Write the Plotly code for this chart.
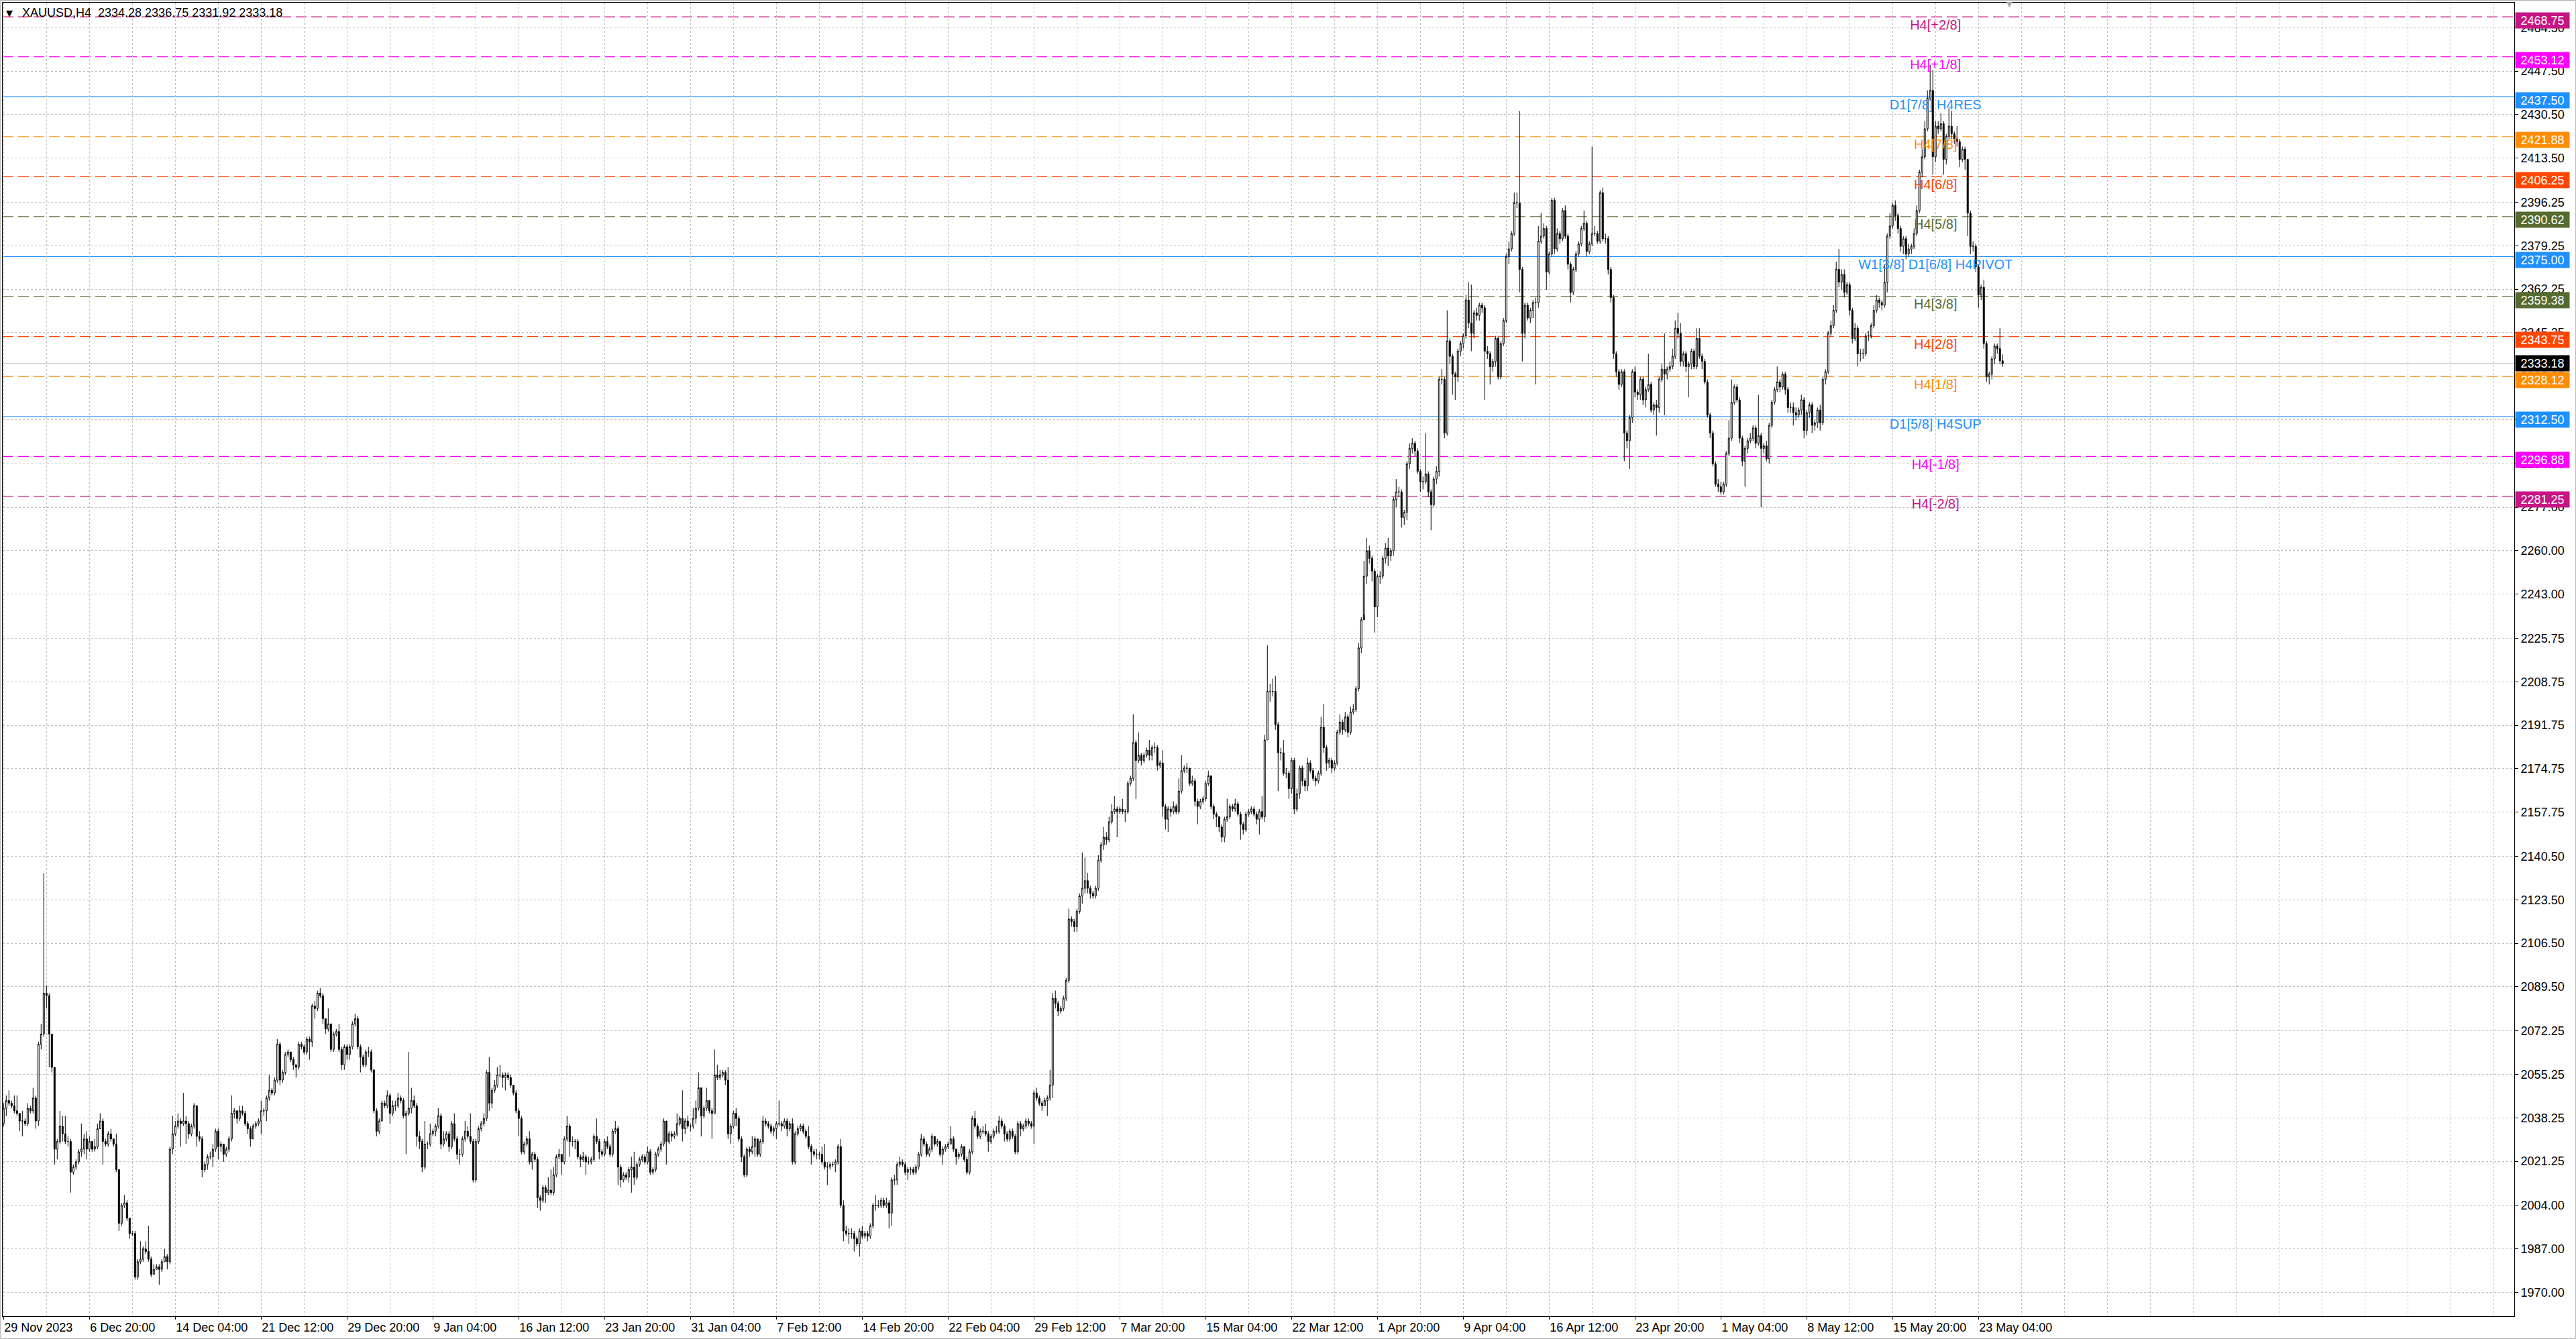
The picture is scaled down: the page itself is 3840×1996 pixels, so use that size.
import plotly.graph_objects as go

FONT = "Liberation Sans, Arial, sans-serif"

# XAUUSD H4 bars (bar 0 = 29 Nov 2023)
first_open = 2036
close = [
    2042, 2045, 2044, 2043, 2041, 2040, 2037, 2037, 2036, 2042,
    2041, 2046, 2037, 2067, 2071, 2087, 2086, 2071, 2058, 2026,
    2029, 2035, 2032, 2029, 2029, 2017, 2019, 2021, 2025, 2026,
    2030, 2026, 2029, 2026, 2027, 2034, 2037, 2029, 2028, 2032,
    2030, 2028, 2018, 1997, 2004, 2005, 1999, 1993, 1993, 1976,
    1982, 1983, 1987, 1986, 1983, 1977, 1979, 1980, 1979, 1982,
    1984, 1982, 2026, 2032, 2035, 2037, 2036, 2037, 2036, 2032,
    2035, 2043, 2031, 2030, 2018, 2020, 2023, 2023, 2026, 2033,
    2027, 2028, 2024, 2026, 2030, 2040, 2041, 2038, 2041, 2040,
    2036, 2034, 2030, 2035, 2036, 2037, 2041, 2041, 2046, 2049,
    2048, 2053, 2067, 2053, 2056, 2063, 2064, 2061, 2059, 2058,
    2067, 2066, 2064, 2069, 2068, 2082, 2081, 2087, 2086, 2077,
    2073, 2075, 2065, 2071, 2072, 2065, 2059, 2066, 2063, 2066,
    2075, 2077, 2066, 2062, 2059, 2064, 2064, 2057, 2041, 2033,
    2037, 2044, 2043, 2047, 2040, 2043, 2043, 2046, 2045, 2039,
    2040, 2042, 2045, 2043, 2031, 2029, 2019, 2028, 2028, 2032,
    2033, 2035, 2039, 2028, 2030, 2032, 2027, 2036, 2030, 2024,
    2024, 2030, 2033, 2031, 2029, 2014, 2029, 2034, 2036, 2038,
    2056, 2044, 2049, 2051, 2055, 2055, 2054, 2055, 2054, 2051,
    2048, 2041, 2038, 2025, 2028, 2030, 2021, 2024, 2022, 2007,
    2006, 2011, 2009, 2010, 2009, 2016, 2023, 2024, 2021, 2030,
    2035, 2029, 2029, 2029, 2023, 2022, 2023, 2021, 2021, 2022,
    2031, 2029, 2025, 2024, 2029, 2027, 2024, 2033, 2034, 2019,
    2014, 2016, 2015, 2018, 2019, 2015, 2020, 2022, 2023, 2021,
    2025, 2017, 2018, 2024, 2026, 2028, 2037, 2029, 2032, 2031,
    2032, 2036, 2038, 2034, 2037, 2035, 2035, 2038, 2042, 2050,
    2039, 2042, 2045, 2041, 2040, 2055, 2054, 2055, 2056, 2053,
    2032, 2035, 2040, 2038, 2030, 2023, 2016, 2026, 2025, 2027,
    2030, 2024, 2029, 2037, 2036, 2035, 2033, 2034, 2036, 2036,
    2035, 2037, 2034, 2036, 2021, 2032, 2034, 2035, 2033, 2031,
    2027, 2025, 2024, 2024, 2024, 2021, 2019, 2019, 2020, 2020,
    2021, 2027, 2004, 1994, 1993, 1993, 1993, 1991, 1989, 1994,
    1992, 1993, 1992, 1996, 2004, 2004, 2004, 2006, 2004, 2005,
    2001, 2014, 2014, 2020, 2021, 2020, 2017, 2018, 2018, 2017,
    2019, 2024, 2030, 2028, 2024, 2026, 2031, 2028, 2029, 2024,
    2026, 2027, 2028, 2030, 2026, 2023, 2024, 2027, 2022, 2017,
    2025, 2038, 2035, 2031, 2033, 2033, 2032, 2029, 2031, 2033,
    2033, 2037, 2035, 2032, 2030, 2033, 2031, 2025, 2036, 2034,
    2035, 2037, 2036, 2035, 2048, 2046, 2044, 2043, 2045, 2046,
    2051, 2085, 2083, 2080, 2081, 2085, 2092, 2116, 2115, 2113,
    2119, 2125, 2128, 2131, 2128, 2126, 2125, 2128, 2139, 2145,
    2148, 2147, 2154, 2158, 2159, 2158, 2159, 2158, 2158, 2169,
    2171, 2185, 2178, 2180, 2178, 2180, 2182, 2180, 2183, 2183,
    2176, 2177, 2160, 2155, 2159, 2158, 2160, 2158, 2166, 2174,
    2175, 2175, 2169, 2170, 2162, 2160, 2162, 2163, 2169, 2172,
    2160, 2157, 2156, 2152, 2148, 2155, 2156, 2160, 2159, 2161,
    2157, 2153, 2151, 2157, 2158, 2159, 2157, 2155, 2158, 2156,
    2186, 2205, 2205, 2205, 2192, 2181, 2181, 2173, 2173, 2167,
    2178, 2159, 2165, 2175, 2170, 2168, 2177, 2174, 2171, 2170,
    2173, 2191, 2183, 2177, 2178, 2175, 2177, 2189, 2193, 2190,
    2195, 2189, 2197, 2198, 2206, 2222, 2233, 2250, 2260, 2257,
    2252, 2238, 2250, 2250, 2257, 2261, 2258, 2260, 2280, 2283,
    2283, 2273, 2275, 2294, 2300, 2302, 2299, 2291, 2287, 2287,
    2290, 2283, 2278, 2288, 2291, 2327, 2327, 2306, 2342, 2336,
    2329, 2328, 2338, 2341, 2344, 2358, 2349, 2345, 2353, 2352,
    2356, 2355, 2338, 2337, 2332, 2334, 2343, 2328, 2341, 2350,
    2375, 2378, 2384, 2396, 2396, 2370, 2345, 2356, 2351, 2354,
    2357, 2357, 2381, 2383, 2386, 2369, 2376, 2397, 2378, 2384,
    2382, 2393, 2383, 2372, 2361, 2370, 2376, 2380, 2386, 2388,
    2377, 2380, 2384, 2384, 2381, 2400, 2382, 2382, 2370, 2359,
    2337, 2330, 2325, 2330, 2306, 2303, 2312, 2330, 2322, 2321,
    2327, 2319, 2323, 2325, 2315, 2317, 2316, 2327, 2331, 2329,
    2331, 2332, 2336, 2347, 2345, 2334, 2337, 2332, 2333, 2338,
    2332, 2343, 2336, 2334, 2326, 2313, 2306, 2294, 2286, 2285,
    2283, 2286, 2298, 2304, 2318, 2324, 2319, 2304, 2295, 2300,
    2303, 2304, 2308, 2302, 2305, 2300, 2301, 2296, 2309, 2318,
    2323, 2326, 2324, 2329, 2323, 2316, 2316, 2314, 2313, 2315,
    2319, 2307, 2314, 2317, 2309, 2310, 2315, 2310, 2327, 2330,
    2345, 2348, 2354, 2370, 2365, 2368, 2361, 2364, 2354, 2343,
    2347, 2337, 2337, 2337, 2344, 2344, 2348, 2354, 2358, 2357,
    2356, 2365, 2383, 2387, 2395, 2391, 2386, 2379, 2382, 2376,
    2378, 2379, 2384, 2393, 2408, 2414, 2425, 2437, 2440, 2414,
    2426, 2425, 2427, 2413, 2422, 2426, 2423, 2421, 2420, 2413,
    2417, 2413, 2392, 2379, 2379, 2371, 2360, 2363, 2341, 2328,
    2329, 2335, 2340, 2339, 2334.28, 2333.18,
]
high = [
    2044, 2047, 2049, 2045, 2047, 2047, 2040, 2041, 2038, 2044,
    2043, 2050, 2047, 2068, 2075, 2134, 2090, 2087, 2071, 2058,
    2030, 2041, 2039, 2039, 2031, 2030, 2020, 2022, 2026, 2036,
    2032, 2033, 2031, 2029, 2030, 2036, 2040, 2038, 2030, 2033,
    2034, 2030, 2032, 2018, 2005, 2008, 2006, 1999, 1994, 1994,
    1983, 1990, 1988, 1990, 1996, 1984, 1981, 1981, 1981, 1983,
    1987, 1985, 2027, 2039, 2037, 2040, 2038, 2048, 2039, 2037,
    2036, 2044, 2043, 2033, 2031, 2021, 2024, 2025, 2028, 2034,
    2034, 2029, 2028, 2027, 2031, 2047, 2042, 2041, 2043, 2043,
    2041, 2037, 2035, 2036, 2037, 2038, 2045, 2042, 2047, 2055,
    2050, 2054, 2069, 2068, 2057, 2064, 2065, 2064, 2062, 2059,
    2068, 2068, 2067, 2070, 2070, 2083, 2084, 2088, 2089, 2087,
    2077, 2081, 2075, 2072, 2073, 2075, 2066, 2067, 2067, 2067,
    2076, 2079, 2078, 2067, 2063, 2065, 2066, 2065, 2057, 2042,
    2038, 2045, 2045, 2049, 2048, 2045, 2045, 2048, 2047, 2046,
    2041, 2064, 2050, 2047, 2044, 2033, 2030, 2037, 2029, 2036,
    2034, 2036, 2042, 2040, 2033, 2033, 2033, 2037, 2040, 2031,
    2026, 2031, 2037, 2035, 2040, 2030, 2030, 2035, 2037, 2040,
    2057, 2062, 2050, 2053, 2058, 2059, 2056, 2056, 2056, 2055,
    2051, 2049, 2042, 2039, 2029, 2031, 2033, 2025, 2025, 2023,
    2008, 2012, 2012, 2015, 2018, 2019, 2024, 2026, 2024, 2031,
    2039, 2036, 2031, 2030, 2030, 2024, 2025, 2024, 2023, 2023,
    2032, 2038, 2030, 2026, 2030, 2031, 2028, 2034, 2037, 2035,
    2020, 2017, 2017, 2019, 2023, 2025, 2021, 2023, 2024, 2024,
    2027, 2026, 2019, 2025, 2027, 2029, 2038, 2037, 2033, 2033,
    2033, 2040, 2039, 2049, 2038, 2039, 2036, 2042, 2045, 2056,
    2050, 2043, 2050, 2045, 2042, 2065, 2059, 2057, 2057, 2057,
    2058, 2036, 2041, 2042, 2039, 2031, 2024, 2027, 2027, 2031,
    2031, 2030, 2030, 2039, 2038, 2037, 2036, 2035, 2037, 2045,
    2037, 2038, 2038, 2037, 2038, 2033, 2035, 2036, 2036, 2034,
    2035, 2028, 2026, 2026, 2025, 2027, 2028, 2021, 2021, 2021,
    2022, 2028, 2030, 2006, 1996, 1995, 1995, 1994, 1992, 1995,
    1996, 1994, 1994, 1997, 2005, 2008, 2006, 2007, 2007, 2007,
    2006, 2015, 2016, 2021, 2023, 2022, 2021, 2019, 2019, 2019,
    2020, 2025, 2032, 2031, 2029, 2027, 2032, 2031, 2030, 2029,
    2027, 2028, 2029, 2035, 2031, 2026, 2025, 2028, 2027, 2023,
    2026, 2039, 2041, 2036, 2034, 2035, 2036, 2033, 2032, 2034,
    2035, 2039, 2038, 2036, 2033, 2034, 2034, 2032, 2037, 2037,
    2036, 2038, 2038, 2037, 2049, 2050, 2047, 2045, 2046, 2047,
    2057, 2087, 2088, 2084, 2082, 2086, 2093, 2120, 2117, 2116,
    2120, 2126, 2142, 2140, 2134, 2129, 2127, 2129, 2141, 2146,
    2152, 2150, 2156, 2161, 2164, 2160, 2160, 2163, 2159, 2170,
    2172, 2196, 2186, 2189, 2181, 2181, 2183, 2186, 2184, 2185,
    2184, 2178, 2182, 2161, 2160, 2160, 2162, 2161, 2171, 2180,
    2176, 2177, 2175, 2172, 2171, 2163, 2163, 2164, 2170, 2174,
    2172, 2161, 2158, 2156, 2153, 2156, 2163, 2161, 2161, 2163,
    2162, 2158, 2154, 2158, 2159, 2160, 2160, 2158, 2159, 2164,
    2188, 2223, 2208, 2210, 2211, 2193, 2183, 2186, 2175, 2174,
    2179, 2179, 2167, 2176, 2176, 2171, 2179, 2178, 2175, 2172,
    2174, 2195, 2200, 2184, 2179, 2179, 2178, 2190, 2196, 2194,
    2197, 2196, 2199, 2200, 2207, 2224, 2234, 2256, 2265, 2262,
    2258, 2253, 2251, 2252, 2258, 2263, 2265, 2261, 2281, 2288,
    2285, 2284, 2276, 2295, 2302, 2304, 2303, 2300, 2292, 2289,
    2306, 2291, 2284, 2289, 2293, 2328, 2331, 2328, 2354, 2343,
    2337, 2330, 2339, 2342, 2345, 2360, 2365, 2364, 2354, 2355,
    2357, 2357, 2356, 2340, 2338, 2335, 2344, 2344, 2342, 2351,
    2376, 2381, 2385, 2400, 2400, 2432, 2371, 2357, 2357, 2355,
    2358, 2359, 2387, 2392, 2388, 2387, 2377, 2398, 2398, 2386,
    2385, 2394, 2395, 2384, 2373, 2371, 2377, 2381, 2387, 2393,
    2389, 2381, 2418, 2387, 2385, 2401, 2402, 2384, 2383, 2371,
    2360, 2338, 2331, 2331, 2331, 2307, 2313, 2331, 2332, 2323,
    2328, 2328, 2324, 2337, 2326, 2318, 2319, 2328, 2333, 2345,
    2332, 2334, 2339, 2350, 2353, 2349, 2338, 2338, 2334, 2339,
    2339, 2347, 2347, 2337, 2335, 2327, 2314, 2307, 2295, 2288,
    2287, 2287, 2299, 2311, 2327, 2325, 2325, 2320, 2305, 2301,
    2304, 2306, 2309, 2309, 2321, 2306, 2302, 2303, 2310, 2319,
    2324, 2332, 2327, 2330, 2330, 2324, 2318, 2318, 2316, 2316,
    2321, 2320, 2315, 2318, 2318, 2311, 2316, 2317, 2328, 2331,
    2346, 2350, 2356, 2373, 2378, 2370, 2370, 2365, 2365, 2355,
    2349, 2348, 2339, 2339, 2345, 2346, 2349, 2356, 2360, 2359,
    2358, 2372, 2384, 2392, 2396, 2397, 2392, 2387, 2383, 2383,
    2380, 2380, 2386, 2395, 2409, 2417, 2428, 2440, 2450, 2448,
    2428, 2428, 2431, 2428, 2423, 2433, 2432, 2424, 2426, 2421,
    2418, 2418, 2413, 2393, 2381, 2380, 2372, 2364, 2366, 2342,
    2330, 2336, 2341, 2341, 2347, 2336.75,
]
low = [
    2035, 2039, 2043, 2042, 2040, 2039, 2033, 2031, 2035, 2035,
    2040, 2040, 2034, 2035, 2065, 2070, 2081, 2058, 2056, 2020,
    2022, 2028, 2029, 2028, 2027, 2009, 2016, 2018, 2020, 2023,
    2024, 2022, 2025, 2025, 2025, 2026, 2034, 2020, 2027, 2027,
    2029, 2027, 2017, 1994, 1996, 2003, 1998, 1991, 1992, 1975,
    1975, 1981, 1982, 1985, 1982, 1976, 1977, 1979, 1973, 1978,
    1982, 1979, 1981, 2024, 2031, 2034, 2027, 2035, 2028, 2030,
    2031, 2034, 2027, 2029, 2015, 2017, 2018, 2022, 2019, 2025,
    2022, 2025, 2021, 2023, 2025, 2029, 2038, 2036, 2037, 2039,
    2035, 2032, 2027, 2030, 2034, 2035, 2032, 2039, 2037, 2045,
    2047, 2047, 2052, 2051, 2052, 2055, 2062, 2060, 2057, 2054,
    2057, 2065, 2063, 2063, 2061, 2066, 2077, 2080, 2085, 2075,
    2071, 2072, 2064, 2064, 2070, 2064, 2057, 2057, 2061, 2061,
    2065, 2074, 2065, 2056, 2058, 2058, 2062, 2056, 2040, 2031,
    2032, 2037, 2042, 2042, 2036, 2039, 2041, 2042, 2044, 2038,
    2024, 2039, 2040, 2042, 2027, 2026, 2017, 2018, 2026, 2027,
    2031, 2031, 2034, 2026, 2027, 2029, 2025, 2026, 2029, 2022,
    2020, 2023, 2029, 2030, 2028, 2013, 2013, 2028, 2033, 2035,
    2037, 2041, 2042, 2048, 2050, 2054, 2050, 2049, 2053, 2050,
    2047, 2040, 2031, 2024, 2024, 2027, 2020, 2018, 2021, 2003,
    2002, 2005, 2005, 2008, 2008, 2008, 2015, 2022, 2016, 2020,
    2029, 2023, 2027, 2026, 2022, 2019, 2021, 2016, 2020, 2020,
    2021, 2028, 2022, 2023, 2023, 2026, 2023, 2023, 2032, 2012,
    2011, 2013, 2014, 2013, 2009, 2012, 2014, 2019, 2021, 2020,
    2020, 2016, 2016, 2017, 2023, 2025, 2027, 2020, 2028, 2029,
    2030, 2031, 2035, 2029, 2032, 2034, 2033, 2034, 2036, 2041,
    2031, 2038, 2041, 2040, 2030, 2040, 2053, 2053, 2054, 2051,
    2030, 2028, 2034, 2035, 2029, 2021, 2015, 2015, 2023, 2024,
    2023, 2023, 2023, 2028, 2035, 2034, 2032, 2031, 2030, 2035,
    2033, 2034, 2031, 2033, 2020, 2020, 2031, 2033, 2032, 2030,
    2026, 2020, 2023, 2022, 2022, 2020, 2018, 2012, 2018, 2019,
    2017, 2020, 2003, 1990, 1992, 1989, 1991, 1986, 1988, 1984,
    1991, 1991, 1990, 1991, 1995, 2002, 2003, 2003, 2003, 2003,
    1995, 1996, 2012, 2012, 2019, 2019, 2016, 2014, 2016, 2016,
    2016, 2018, 2023, 2027, 2023, 2023, 2025, 2027, 2027, 2023,
    2020, 2025, 2026, 2028, 2025, 2020, 2022, 2023, 2021, 2016,
    2016, 2024, 2034, 2030, 2030, 2032, 2031, 2025, 2028, 2030,
    2032, 2032, 2034, 2029, 2029, 2029, 2030, 2024, 2024, 2031,
    2033, 2034, 2035, 2034, 2028, 2045, 2043, 2041, 2043, 2039,
    2045, 2046, 2081, 2078, 2079, 2080, 2084, 2091, 2113, 2111,
    2111, 2118, 2122, 2126, 2126, 2124, 2124, 2124, 2127, 2138,
    2143, 2145, 2146, 2153, 2157, 2148, 2157, 2157, 2154, 2157,
    2168, 2170, 2163, 2177, 2176, 2177, 2179, 2178, 2178, 2181,
    2174, 2175, 2156, 2151, 2150, 2156, 2157, 2157, 2157, 2165,
    2173, 2173, 2168, 2168, 2160, 2153, 2159, 2161, 2162, 2168,
    2159, 2155, 2152, 2150, 2146, 2146, 2154, 2155, 2158, 2158,
    2156, 2147, 2149, 2150, 2156, 2157, 2156, 2153, 2149, 2155,
    2154, 2186, 2201, 2203, 2190, 2166, 2178, 2172, 2171, 2163,
    2165, 2157, 2158, 2163, 2168, 2166, 2166, 2173, 2170, 2168,
    2169, 2172, 2181, 2174, 2175, 2173, 2174, 2176, 2188, 2188,
    2189, 2187, 2188, 2196, 2197, 2205, 2220, 2235, 2247, 2255,
    2248, 2228, 2234, 2247, 2249, 2255, 2254, 2256, 2258, 2277,
    2281, 2269, 2270, 2272, 2292, 2298, 2297, 2290, 2283, 2284,
    2286, 2281, 2268, 2277, 2286, 2289, 2325, 2304, 2305, 2333,
    2321, 2319, 2326, 2336, 2339, 2343, 2347, 2338, 2343, 2350,
    2350, 2353, 2319, 2335, 2325, 2330, 2332, 2327, 2327, 2340,
    2349, 2372, 2377, 2383, 2394, 2361, 2334, 2343, 2350, 2349,
    2351, 2325, 2355, 2380, 2382, 2362, 2368, 2375, 2376, 2377,
    2380, 2381, 2382, 2370, 2357, 2360, 2369, 2375, 2379, 2385,
    2375, 2376, 2379, 2383, 2380, 2380, 2381, 2380, 2368, 2357,
    2335, 2328, 2323, 2324, 2295, 2300, 2292, 2310, 2320, 2319,
    2319, 2317, 2316, 2322, 2314, 2313, 2305, 2314, 2326, 2313,
    2327, 2330, 2331, 2335, 2343, 2332, 2332, 2330, 2320, 2331,
    2331, 2331, 2335, 2331, 2325, 2312, 2304, 2293, 2285, 2283,
    2282, 2282, 2285, 2297, 2303, 2317, 2318, 2302, 2293, 2285,
    2298, 2302, 2303, 2300, 2301, 2277, 2298, 2295, 2294, 2308,
    2317, 2322, 2322, 2323, 2321, 2314, 2314, 2309, 2311, 2312,
    2313, 2304, 2305, 2312, 2306, 2307, 2308, 2307, 2309, 2325,
    2329, 2344, 2347, 2353, 2363, 2362, 2359, 2360, 2352, 2341,
    2342, 2332, 2334, 2335, 2336, 2342, 2343, 2347, 2353, 2355,
    2354, 2355, 2361, 2382, 2386, 2389, 2384, 2377, 2376, 2374,
    2375, 2376, 2378, 2383, 2392, 2406, 2413, 2424, 2436, 2407,
    2412, 2423, 2424, 2407, 2411, 2421, 2421, 2419, 2418, 2410,
    2412, 2409, 2383, 2376, 2377, 2369, 2355, 2358, 2339, 2326,
    2325, 2327, 2333, 2337, 2333, 2331.92,
]

# time axis labels, one every 32 bars
date_labels = [
    "29 Nov 2023", "6 Dec 20:00", "14 Dec 04:00", "21 Dec 12:00", "29 Dec 20:00",
    "9 Jan 04:00", "16 Jan 12:00", "23 Jan 20:00", "31 Jan 04:00", "7 Feb 12:00",
    "14 Feb 20:00", "22 Feb 04:00", "29 Feb 12:00", "7 Mar 20:00", "15 Mar 04:00",
    "22 Mar 12:00", "1 Apr 20:00", "9 Apr 04:00", "16 Apr 12:00", "23 Apr 20:00",
    "1 May 04:00", "8 May 12:00", "15 May 20:00", "23 May 04:00",
]
price_ticks = [
    2464.50, 2447.50, 2430.50, 2413.50, 2396.25, 2379.25, 2362.25, 2345.25,
    2328.25, 2311.25, 2294.00, 2277.00, 2260.00, 2243.00, 2225.75, 2208.75,
    2191.75, 2174.75, 2157.75, 2140.50, 2123.50, 2106.50, 2089.50, 2072.25,
    2055.25, 2038.25, 2021.25, 2004.00, 1987.00, 1970.00,
]

# murrey math levels
levels = [2468.75, 2453.12, 2437.50, 2421.88, 2406.25, 2390.62, 2375.00,
          2359.38, 2343.75, 2328.12, 2312.50, 2296.88, 2281.25]
level_names = ["H4[+2/8]", "H4[+1/8]", "D1[7/8] H4RES", "H4[7/8]", "H4[6/8]",
               "H4[5/8]", "W1[3/8] D1[6/8] H4PIVOT", "H4[3/8]", "H4[2/8]",
               "H4[1/8]", "D1[5/8] H4SUP", "H4[-1/8]", "H4[-2/8]"]
level_colors = ["#C71585", "#FF00FF", "#1E90FF", "#FF8C00", "#FF4500",
                "#556B2F", "#1E90FF", "#556B2F", "#FF4500", "#FF8C00",
                "#1E90FF", "#FF00FF", "#C71585"]
level_solid = [False, False, True, False, False, False, True,
               False, False, False, True, False, False]
label_bar = 720
label_drop = 0.9  # names sit a little under their line

n = len(close)
idx = list(range(n))
opens = [first_open] + close[:-1]
last_price = close[-1]

major = list(range(0, 32 * len(date_labels), 32))
minor = [v for v in range(16, 929, 16) if v not in major]

fig = go.Figure()

# level names, drawn first so the candles sit on top of them
fig.add_trace(go.Scatter(
    x=[label_bar] * len(levels), y=[lv - label_drop for lv in levels],
    mode="text", text=level_names, textposition="bottom center",
    textfont=dict(color=level_colors, size=20, family=FONT),
    hoverinfo="skip", showlegend=False,
))

fig.add_trace(go.Candlestick(
    x=idx, open=opens, high=high, low=low, close=close,
    increasing=dict(line=dict(color="black", width=1), fillcolor="white"),
    decreasing=dict(line=dict(color="black", width=1), fillcolor="black"),
    whiskerwidth=0, hoverinfo="skip", showlegend=False,
))

for lv, col, solid in zip(levels, level_colors, level_solid):
    fig.add_hline(y=lv, line_color=col, line_width=1.2,
                  line_dash="solid" if solid else "16px,7px", layer="below")
fig.add_hline(y=last_price, line_color="#C0C0C0", line_width=1.2, layer="below")

# price tags on the right scale
for lv, col in zip(levels, level_colors):
    fig.add_annotation(
        xref="paper", x=1, xanchor="left", xshift=1,
        yref="y", y=lv, yanchor="middle", yshift=-5,
        text=f"{lv:.2f}", showarrow=False, bgcolor=col,
        width=78, height=21, borderpad=1, align="center",
        font=dict(color="white", size=18, family=FONT),
    )
fig.add_annotation(
    xref="paper", x=1, xanchor="left", xshift=1,
    yref="y", y=last_price, yanchor="middle",
    text=f"{last_price:.2f}", showarrow=False, bgcolor="black",
    width=78, height=21, borderpad=1, align="center",
    font=dict(color="white", size=18, family=FONT),
)

# header
fig.add_annotation(
    xref="paper", x=0, xanchor="left", xshift=3,
    yref="paper", y=1, yanchor="middle", yshift=-15,
    text="▼", showarrow=False, font=dict(color="black", size=13, family="DejaVu Sans"),
)
fig.add_annotation(
    xref="paper", x=0, xanchor="left", xshift=27,
    yref="paper", y=1, yanchor="middle", yshift=-15,
    text=f"XAUUSD,H4  {opens[-1]:.2f} {high[-1]:.2f} {low[-1]:.2f} {close[-1]:.2f}",
    showarrow=False, font=dict(color="black", size=18, family=FONT),
)
# chart shift marker
fig.add_annotation(
    xref="paper", x=0.7989, xanchor="center",
    yref="paper", y=1, yanchor="middle", yshift=-2,
    text="▼", showarrow=False, font=dict(color="#A8A8A8", size=11, family="DejaVu Sans"),
)

# window frame
fig.add_shape(type="rect", xref="paper", yref="paper",
              x0=-0.0009, x1=1.0244, y0=-0.0171, y1=1.0018,
              line=dict(color="#B0B0B0", width=1), layer="above")

grid = dict(showgrid=True, gridcolor="#C0C0C0", griddash="3px,3px", gridwidth=1)

fig.update_layout(
    width=3840, height=1996,
    margin=dict(l=4, r=92, t=4, b=34),
    paper_bgcolor="white", plot_bgcolor="white",
    font=dict(family=FONT, size=18, color="black"),
    showlegend=False,
    xaxis=dict(
        range=[-0.325, 935.7], tickmode="array", tickvals=major, ticktext=date_labels,
        ticks="outside", ticklen=4, tickcolor="black", ticklabelposition="outside right",
        showline=True, linecolor="black", linewidth=1, mirror=True, zeroline=False,
        rangeslider=dict(visible=False), tickfont=dict(size=18, color="black"),
        minor=dict(tickmode="array", tickvals=minor, ticks="", **grid),
        **grid,
    ),
    yaxis=dict(
        side="right", range=[1960.69, 2474.28], tickmode="array",
        tickvals=price_ticks, ticktext=[f"{v:.2f}" for v in price_ticks],
        ticks="outside", ticklen=5, tickcolor="black",
        showline=True, linecolor="black", linewidth=1, mirror=True, zeroline=False,
        tickfont=dict(size=18, color="black"),
        **grid,
    ),
)

fig.write_html("out.html", config={"displayModeBar": False},
               post_script="document.body.style.margin='0px';")
